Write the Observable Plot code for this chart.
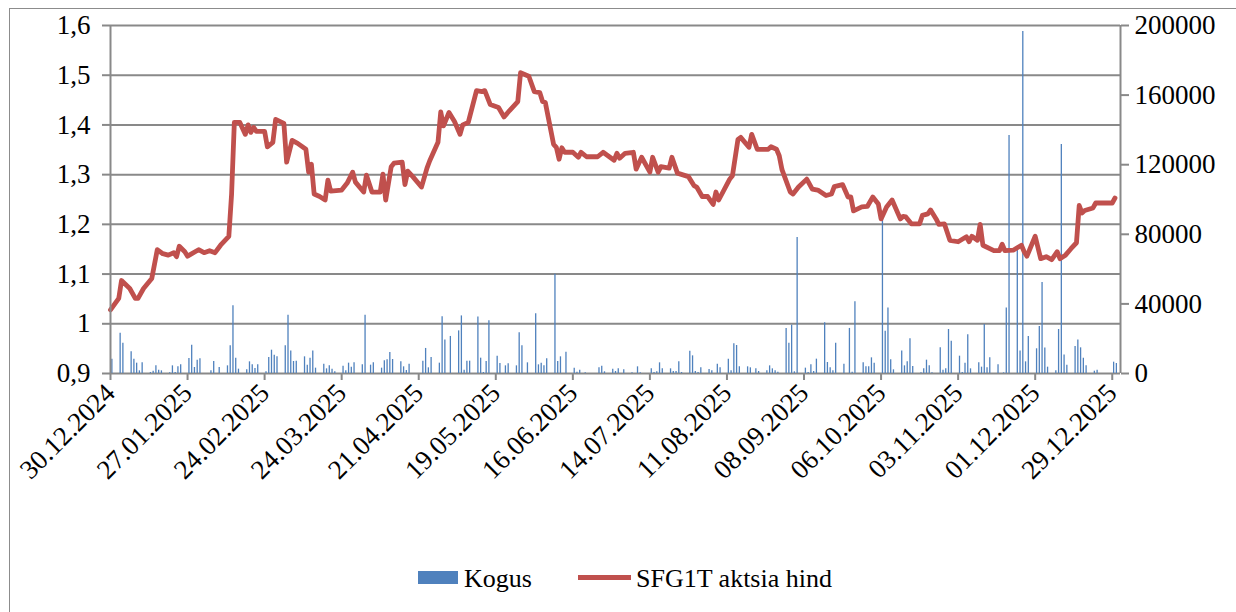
<!DOCTYPE html>
<html>
<head>
<meta charset="utf-8">
<script src="https://cdn.jsdelivr.net/npm/d3@7"></script>
<script src="https://cdn.jsdelivr.net/npm/@observablehq/plot@0.6"></script>
<style>
  body { margin: 0; background: #fff; }
  #wrap { position: relative; width: 1236px; height: 612px; overflow: hidden;
          font-family: "Liberation Serif", "Times New Roman", serif; color: #000; }
  #frame { position: absolute; left: 9px; top: 8px; width: 1260px; height: 640px;
           border: 1.5px solid #8c8c8c; box-sizing: border-box; }
  #chart { position: absolute; left: 0; top: 0; }
  .lg { position: absolute; font-size: 26px; line-height: 26px; white-space: nowrap; }
</style>
</head>
<body>
<div id="wrap">
  <div id="frame"></div>
  <div id="chart"></div>
  <div style="position:absolute;left:418px;top:571px;width:40px;height:13px;background:#4F81BD"></div>
  <div class="lg" style="left:464px;top:566px">Kogus</div>
  <div style="position:absolute;left:578px;top:575px;width:53px;height:5px;background:#C0504D"></div>
  <div class="lg" style="left:636px;top:566px">SFG1T aktsia hind</div>
</div>
<script>
// ---- Data ----
const priceDates = [
  "2024-12-30","2025-01-02","2025-01-03","2025-01-06","2025-01-08","2025-01-09","2025-01-11","2025-01-14","2025-01-16","2025-01-18",
  "2025-01-20","2025-01-22","2025-01-23","2025-01-24","2025-01-26","2025-01-27","2025-01-31","2025-02-02","2025-02-04","2025-02-06",
  "2025-02-08","2025-02-11","2025-02-12","2025-02-13","2025-02-15","2025-02-17","2025-02-18","2025-02-19","2025-02-20","2025-02-21",
  "2025-02-24","2025-02-25","2025-02-27","2025-02-28","2025-03-03","2025-03-04","2025-03-06","2025-03-08","2025-03-11","2025-03-12",
  "2025-03-13","2025-03-14","2025-03-16","2025-03-18","2025-03-19","2025-03-20","2025-03-24","2025-03-26","2025-03-28","2025-03-29",
  "2025-04-01","2025-04-02","2025-04-04","2025-04-07","2025-04-08","2025-04-09","2025-04-11","2025-04-12","2025-04-15","2025-04-16",
  "2025-04-17","2025-04-19","2025-04-22","2025-04-24","2025-04-25","2025-04-28","2025-04-29","2025-04-30","2025-05-02","2025-05-04",
  "2025-05-06","2025-05-07","2025-05-09","2025-05-12","2025-05-14","2025-05-15","2025-05-17","2025-05-20","2025-05-22","2025-05-24",
  "2025-05-27","2025-05-28","2025-05-31","2025-06-02","2025-06-04","2025-06-05","2025-06-06","2025-06-09","2025-06-10","2025-06-11",
  "2025-06-12","2025-06-13","2025-06-16","2025-06-18","2025-06-19","2025-06-21","2025-06-25","2025-06-27","2025-07-01","2025-07-02",
  "2025-07-03","2025-07-05","2025-07-08","2025-07-09","2025-07-11","2025-07-14","2025-07-15","2025-07-17","2025-07-18","2025-07-21",
  "2025-07-22","2025-07-24","2025-07-28","2025-07-30","2025-07-31","2025-08-02","2025-08-04","2025-08-06","2025-08-07","2025-08-08",
  "2025-08-12","2025-08-13","2025-08-15","2025-08-16","2025-08-19","2025-08-20","2025-08-22","2025-08-26","2025-08-27","2025-08-29",
  "2025-08-30","2025-08-31","2025-09-03","2025-09-04","2025-09-06","2025-09-09","2025-09-11","2025-09-13","2025-09-16","2025-09-18",
  "2025-09-19","2025-09-22","2025-09-24","2025-09-25","2025-09-26","2025-09-29","2025-10-01","2025-10-03","2025-10-05","2025-10-06",
  "2025-10-08","2025-10-10","2025-10-13","2025-10-14","2025-10-15","2025-10-17","2025-10-20","2025-10-21","2025-10-23","2025-10-24",
  "2025-10-26","2025-10-27","2025-10-29","2025-10-31","2025-11-03","2025-11-06","2025-11-07","2025-11-08","2025-11-10","2025-11-11",
  "2025-11-12","2025-11-16","2025-11-18","2025-11-19","2025-11-20","2025-11-23","2025-11-26","2025-11-27","2025-11-28","2025-12-01",
  "2025-12-03","2025-12-05","2025-12-07","2025-12-09","2025-12-10","2025-12-12","2025-12-14","2025-12-16","2025-12-17","2025-12-18",
  "2025-12-19","2025-12-22","2025-12-23","2025-12-29","2025-12-30"
];
const priceValues = [
  1.028,1.051,1.087,1.071,1.051,1.051,1.071,1.091,1.149,1.141,
  1.138,1.143,1.135,1.156,1.145,1.136,1.149,1.143,1.147,1.143,
  1.158,1.176,1.261,1.405,1.405,1.381,1.400,1.385,1.395,1.387,
  1.387,1.356,1.365,1.411,1.403,1.325,1.369,1.363,1.351,1.305,
  1.321,1.261,1.256,1.249,1.289,1.267,1.269,1.283,1.305,1.285,
  1.265,1.299,1.265,1.265,1.301,1.249,1.316,1.323,1.325,1.280,
  1.307,1.295,1.275,1.313,1.328,1.365,1.426,1.398,1.425,1.407,
  1.381,1.400,1.405,1.469,1.467,1.469,1.441,1.435,1.416,1.429,
  1.447,1.505,1.498,1.467,1.465,1.447,1.445,1.361,1.355,1.331,
  1.354,1.345,1.345,1.335,1.345,1.336,1.336,1.345,1.329,1.343,
  1.333,1.343,1.345,1.311,1.335,1.305,1.335,1.305,1.316,1.313,
  1.335,1.303,1.296,1.278,1.275,1.256,1.256,1.240,1.265,1.249,
  1.291,1.298,1.371,1.375,1.355,1.381,1.351,1.351,1.356,1.351,
  1.338,1.310,1.265,1.261,1.275,1.291,1.271,1.269,1.258,1.261,
  1.276,1.280,1.255,1.255,1.227,1.235,1.236,1.255,1.241,1.211,
  1.235,1.249,1.211,1.216,1.215,1.201,1.201,1.218,1.221,1.229,
  1.211,1.200,1.201,1.168,1.165,1.175,1.165,1.176,1.168,1.200,
  1.158,1.147,1.147,1.160,1.147,1.148,1.158,1.145,1.136,1.176,
  1.131,1.135,1.129,1.145,1.131,1.138,1.151,1.163,1.238,1.223,
  1.228,1.233,1.243,1.243,1.253
];

const volumeDates = [
  "2024-12-30","2025-01-02","2025-01-03","2025-01-06","2025-01-07","2025-01-08","2025-01-09","2025-01-10","2025-01-13","2025-01-14",
  "2025-01-15","2025-01-16","2025-01-17","2025-01-20","2025-01-21","2025-01-22","2025-01-23","2025-01-24","2025-01-27","2025-01-28",
  "2025-01-29","2025-01-30","2025-01-31","2025-02-04","2025-02-05","2025-02-07","2025-02-10","2025-02-11","2025-02-12","2025-02-13",
  "2025-02-14","2025-02-17","2025-02-18","2025-02-19","2025-02-20","2025-02-21","2025-02-24","2025-02-25","2025-02-26","2025-02-27",
  "2025-02-28","2025-03-03","2025-03-04","2025-03-05","2025-03-06","2025-03-07","2025-03-10","2025-03-11","2025-03-12","2025-03-13",
  "2025-03-14","2025-03-17","2025-03-18","2025-03-19","2025-03-20","2025-03-21","2025-03-24","2025-03-25","2025-03-26","2025-03-27",
  "2025-03-28","2025-03-31","2025-04-01","2025-04-03","2025-04-04","2025-04-07","2025-04-08","2025-04-09","2025-04-10","2025-04-11",
  "2025-04-14","2025-04-15","2025-04-16","2025-04-17","2025-04-22","2025-04-23","2025-04-24","2025-04-25","2025-04-28","2025-04-29",
  "2025-04-30","2025-05-02","2025-05-05","2025-05-06","2025-05-07","2025-05-08","2025-05-09","2025-05-12","2025-05-13","2025-05-14",
  "2025-05-15","2025-05-16","2025-05-19","2025-05-20","2025-05-22","2025-05-23","2025-05-26","2025-05-27","2025-05-28","2025-05-30",
  "2025-06-02","2025-06-03","2025-06-04","2025-06-05","2025-06-06","2025-06-09","2025-06-10","2025-06-11","2025-06-13","2025-06-16",
  "2025-06-17","2025-06-18","2025-06-20","2025-06-25","2025-06-26","2025-06-27","2025-06-30","2025-07-01","2025-07-02","2025-07-04",
  "2025-07-07","2025-07-09","2025-07-10","2025-07-14","2025-07-15","2025-07-16","2025-07-17","2025-07-18","2025-07-21","2025-07-22",
  "2025-07-23","2025-07-24","2025-07-25","2025-07-28","2025-07-29","2025-07-30","2025-07-31","2025-08-01","2025-08-04","2025-08-05",
  "2025-08-07","2025-08-08","2025-08-11","2025-08-12","2025-08-13","2025-08-14","2025-08-15","2025-08-18","2025-08-19","2025-08-21",
  "2025-08-22","2025-08-25","2025-08-26","2025-08-27","2025-08-28","2025-08-29","2025-09-01","2025-09-02","2025-09-03","2025-09-04",
  "2025-09-05","2025-09-08","2025-09-09","2025-09-10","2025-09-11","2025-09-12","2025-09-15","2025-09-16","2025-09-17","2025-09-18",
  "2025-09-19","2025-09-22","2025-09-24","2025-09-25","2025-09-26","2025-09-29","2025-09-30","2025-10-01","2025-10-02","2025-10-03",
  "2025-10-06","2025-10-07","2025-10-08","2025-10-09","2025-10-10","2025-10-13","2025-10-14","2025-10-15","2025-10-16","2025-10-17",
  "2025-10-20","2025-10-21","2025-10-22","2025-10-23","2025-10-24","2025-10-27","2025-10-28","2025-10-29","2025-10-30","2025-10-31",
  "2025-11-03","2025-11-04","2025-11-05","2025-11-06","2025-11-07","2025-11-10","2025-11-11","2025-11-12","2025-11-13","2025-11-14",
  "2025-11-17","2025-11-19","2025-11-20","2025-11-21","2025-11-24","2025-11-25","2025-11-26","2025-11-27","2025-11-28","2025-12-01",
  "2025-12-02","2025-12-03","2025-12-04","2025-12-05","2025-12-08","2025-12-09","2025-12-10","2025-12-11","2025-12-12","2025-12-15",
  "2025-12-16","2025-12-17","2025-12-18","2025-12-19","2025-12-22","2025-12-23","2025-12-29","2025-12-30"
];
const volumeValues = [
  8240,23200,17400,12450,8240,5940,1530,6130,575,1340,
  4400,1900,1530,380,4400,575,3830,4980,8620,16300,
  3450,7660,8430,1530,6900,3450,4400,15900,38900,8810,
  2490,2110,6700,4980,2870,4980,960,9200,13400,10500,
  9580,15900,33500,13000,6900,7090,9580,4790,8810,13000,
  3070,5360,2680,4400,2490,960,4210,1530,5940,3640,
  6130,4980,33500,4790,6130,3070,7280,7860,12070,8050,
  6700,3830,1720,5360,7090,14400,3260,9200,5940,32600,
  19200,21300,24500,33100,1920,7090,7090,32400,8810,575,
  6900,30300,9960,5750,4400,5560,4400,23400,15900,6130,
  34300,4980,5940,4400,8430,57000,6900,9580,12260,3070,
  770,1920,380,3260,4210,960,2490,1150,2680,2110,
  380,3830,380,2680,575,960,6130,2680,2680,1150,
  1150,6700,575,12840,10150,1150,575,3260,2300,1530,
  5360,3260,8240,1530,17050,16100,3830,3830,3260,2680,
  1150,1530,4400,2680,1530,770,25900,17400,27800,960,
  78200,3070,575,4980,1150,8240,29100,6320,3260,1530,
  17400,5360,25900,770,41200,6130,3830,3830,9000,5940,
  89000,24300,37600,7860,2110,13000,4400,6700,19900,4020,
  380,2680,7660,4400,380,14750,1920,2680,25300,18600,
  9960,575,5940,22200,2680,6130,3640,28200,3260,9000,
  4980,380,37600,136800,70700,13000,196500,6700,21300,14200,
  27000,52300,14600,3640,1530,25300,131600,10700,4790,15500,
  19200,14750,8810,4400,1340,1920,6510,5750
];

const leftTicks = [0.9, 1.0, 1.1, 1.2, 1.3, 1.4, 1.5, 1.6];
const rightTicks = [0, 40000, 80000, 120000, 160000, 200000];
const xTickLabels = ["30.12.2024","27.01.2025","24.02.2025","24.03.2025","21.04.2025","19.05.2025","16.06.2025",
                     "14.07.2025","11.08.2025","08.09.2025","06.10.2025","03.11.2025","01.12.2025","29.12.2025"];
const seriesNames = ["Kogus", "SFG1T aktsia hind"];

// ---- Build ----
const parseDMY = d3.utcParse("%d.%m.%Y");
const fmtDMY = d3.utcFormat("%d.%m.%Y");
const price = priceDates.map((d, i) => ({date: new Date(d + "T00:00Z"), p: priceValues[i]}));
const volume = volumeDates.map((d, i) => ({date: new Date(d + "T12:00Z"), v: volumeValues[i]}));
const xTicks = xTickLabels.map(parseDMY);

const yMin = 0.9, yMax = 1.6, vMax = 200000;
const v2y = v => yMin + v * (yMax - yMin) / vMax;
const y2v = y => Math.round((y - yMin) / (yMax - yMin) * vMax);
const xDomain = [new Date("2024-12-30T00:00Z"), new Date("2026-01-01T00:00Z")];
const gridColor = "#898989";

const chart = Plot.plot({
  width: 1236,
  height: 540,
  marginLeft: 110,
  marginRight: 116,
  marginTop: 25,
  marginBottom: 167,
  x: {type: "utc", domain: xDomain, label: null},
  y: {domain: [yMin, yMax], label: null},
  style: {fontFamily: "'Liberation Serif', 'Times New Roman', serif", fontSize: "27px", color: "#000", background: "transparent", overflow: "visible"},
  marks: [
    Plot.gridY(leftTicks, {stroke: gridColor, strokeOpacity: 1, strokeWidth: 2}),
    Plot.ruleX(volume, {x: "date", y1: yMin, y2: d => v2y(d.v), stroke: "#4F81BD", strokeWidth: 1.3}),
    Plot.line(price, {x: "date", y: "p", stroke: "#C0504D", strokeWidth: 4.8, strokeLinejoin: "round", strokeLinecap: "round"}),
    Plot.ruleX([xDomain[0], xDomain[1]], {stroke: gridColor, strokeWidth: 2}),
    Plot.axisY(leftTicks, {anchor: "left", label: null, tickSize: 8, tickPadding: 12, stroke: gridColor, strokeWidth: 2,
      tickFormat: d => String(Math.round(d * 10) / 10).replace(".", ",")}),
    Plot.axisY(rightTicks.map(v2y), {anchor: "right", label: null, tickSize: 8, tickPadding: 6, stroke: gridColor, strokeWidth: 2,
      tickFormat: d => String(y2v(d))}),
    Plot.axisX(xTicks, {anchor: "bottom", label: null, tickSize: 7, tickPadding: 8, tickRotate: -45, stroke: gridColor, strokeWidth: 2,
      tickFormat: fmtDMY})
  ]
});
document.getElementById("chart").appendChild(chart);
</script>
</body>
</html>
